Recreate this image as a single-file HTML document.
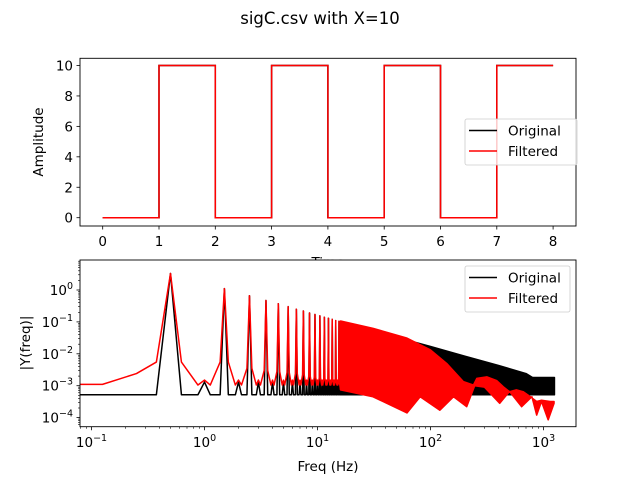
<!DOCTYPE html>
<html><head><meta charset="utf-8"><style>
body{margin:0;background:#fff}
svg text{font-family:"DejaVu Sans","Liberation Sans",sans-serif;fill:#000}
</style></head><body>
<svg width="640" height="480" viewBox="0 0 640 480" xmlns="http://www.w3.org/2000/svg">
<rect width="640" height="480" fill="#fff"/>
<text x="320" y="24" font-size="16.5" text-anchor="middle">sigC.csv with X=10</text>
<g id="top"></g>
<g id="bot"></g>
</svg>
<script>
// ---- time data ----
const edgeTimes=[0,1,2,3,4,5,6,7,8];
const levels=[0,10,0,10,0,10,0,10];
const timeTicks=[0,1,2,3,4,5,6,7,8];
const ampTicks=[0,2,4,6,8,10];
// ---- spectrum data ----
const peakFreqs=[0.5,1.5,2.5,3.5,4.5,5.5,6.5,7.5,8.5,9.5,10.5,11.5,12.5,13.5,14.5,15.5];
const peakAmps=[3.3,1.1,0.66,0.47,0.37,0.30,0.25,0.22,0.19,0.17,0.155,0.14,0.13,0.12,0.11,0.105];
const redShoulders=[5.5e-3,5.5e-3,3.5e-3,3e-3,2.8e-3,2.6e-3,2.4e-3,2.2e-3,2e-3,1.9e-3,1.8e-3,1.7e-3,1.6e-3,1.5e-3,1.4e-3,1.3e-3];
const origBase=5.2e-4, origEven=1.3e-3, redEven=1.5e-3, redTrough=1.05e-3;
const redLowF=[0.05,0.125,0.25],redLowV=[1.1e-3,1.1e-3,2.4e-3];
const origLowF=[0.05,0.125,0.25],origLowV=[5.2e-4,5.2e-4,5.2e-4];
const blackBandF=[16,30,62,100,200,400,700,800,1250];
const blackBandUp=[0.105,0.055,0.027,0.017,0.0085,0.0043,0.0024,0.0018,0.0018];
const blackBandLo=[5.2e-4,5.2e-4,5.2e-4,5.2e-4,5.2e-4,5.2e-4,5.2e-4,5.2e-4,5.2e-4];
const redUpF=[16,31,62,100,139,195,240,257,315,385,440,500,575,660,760,870,960,1145,1240];
const redUpV=[0.107,0.063,0.031,0.0132,0.005,0.00135,0.00105,0.0017,0.0019,0.00145,0.00093,0.00065,0.00074,0.00065,0.00046,0.00032,0.00035,0.00032,0.00032];
const redLoF=[16,31,62,81,121,160,209,246,300,410,500,640,790,870,960,1100,1240];
const redLoV=[7.4e-4,4.5e-4,1.4e-4,4.5e-4,1.7e-4,4.5e-4,2.2e-4,1.0e-3,9e-4,2.8e-4,6.6e-4,2.2e-4,4.5e-4,1.2e-4,3.2e-4,8.5e-5,2.8e-4];
const freqDecades=[-1,0,1,2,3];
const magDecades=[-4,-3,-2,-1,0];

const NS="http://www.w3.org/2000/svg";
const FS=13.5;
function mk(p,tag,a,txt){const e=document.createElementNS(NS,tag);for(const k in a)e.setAttribute(k,a[k]);if(txt!==undefined)e.textContent=txt;p.appendChild(e);return e;}
// ---- top axes ----
const T=document.getElementById('top');
const tx=t=>102.7+56.3*t, ty=v=>217.7-15.22*v;
function sqPath(){let d=`M${tx(edgeTimes[0])},${ty(levels[0])}`;for(let i=0;i<levels.length;i++){d+=` L${tx(edgeTimes[i])},${ty(levels[i])} L${tx(edgeTimes[i+1])},${ty(levels[i])}`;}return d;}
let e=mk(T,'path',{d:sqPath(),fill:'none',stroke:'#000','stroke-width':1.5});

e=mk(T,'path',{d:sqPath(),fill:'none',stroke:'#f00','stroke-width':1.5});

mk(T,'rect',{x:80,y:58.3,width:496,height:167.7,fill:'none',stroke:'#000','stroke-width':0.9});
timeTicks.forEach(t=>{mk(T,'line',{x1:tx(t),x2:tx(t),y1:226,y2:229.5,stroke:'#000','stroke-width':0.8});const l=mk(T,'text',{x:tx(t),y:246,'font-size':FS,'text-anchor':'middle'},String(t));});
ampTicks.forEach(v=>{mk(T,'line',{x1:76.5,x2:80,y1:ty(v),y2:ty(v),stroke:'#000','stroke-width':0.8});const l=mk(T,'text',{x:73,y:ty(v)+5,'font-size':FS,'text-anchor':'end'},String(v));});
e=mk(T,'text',{x:43,y:142,'font-size':FS,'text-anchor':'middle',transform:'rotate(-90 43 142)'},'Amplitude');
e=mk(T,'text',{x:328,y:267,'font-size':FS,'text-anchor':'middle'},'Time');
function legend(g,x,y,w,name){const G=mk(g,'g',{});
mk(G,'rect',{x:x,y:y,width:w,height:46,rx:2,fill:'#fff','fill-opacity':0.8,stroke:'#ccc','stroke-width':0.8});
mk(G,'line',{x1:x+4,x2:x+32,y1:y+11.5,y2:y+11.5,stroke:'#000','stroke-width':1.5});
mk(G,'text',{x:x+43,y:y+16.5,'font-size':FS},'Original');
mk(G,'line',{x1:x+4,x2:x+32,y1:y+32,y2:y+32,stroke:'#f00','stroke-width':1.5});
mk(G,'text',{x:x+43,y:y+37,'font-size':FS},'Filtered');}
// ---- bottom axes ----
const B=document.getElementById('bot');
mk(B,'rect',{x:80,y:260,width:496,height:166.7,fill:'#fff'});
const clip=mk(B,'clipPath',{id:'cb'});mk(clip,'rect',{x:80,y:260,width:496,height:166.7});
const P=mk(B,'g',{'clip-path':'url(#cb)'});
const fx=f=>204.5+113*Math.log10(f), fy=v=>290-31.9*Math.log10(v);
// original line
let pts=origLowF.map((f,i)=>[f,origLowV[i]]);
peakFreqs.forEach((f,i)=>{pts.push([f-0.125,origBase],[f,peakAmps[i]],[f+0.125,origBase]);
 if(i<peakFreqs.length-1){pts.push([f+0.375,origBase],[f+0.5,origEven],[f+0.625,origBase]);}});
pts.push([blackBandF[0],origBase]);
e=mk(P,'polyline',{points:pts.map(p=>fx(p[0])+','+fy(p[1])).join(' '),fill:'none',stroke:'#000','stroke-width':1.5,'stroke-linejoin':'round'});

let bp=blackBandF.map((f,i)=>fx(f)+','+fy(blackBandUp[i]));
for(let i=blackBandF.length-1;i>=0;i--)bp.push(fx(blackBandF[i])+','+fy(blackBandLo[i]));
e=mk(P,'polygon',{points:bp.join(' '),fill:'#000',stroke:'#000','stroke-width':1.5,'stroke-linejoin':'round'});

// filtered line
let rp=redLowF.map((f,i)=>[f,redLowV[i]]);
peakFreqs.forEach((f,i)=>{rp.push([f-0.125,redShoulders[i]],[f,peakAmps[i]],[f+0.125,redShoulders[i]]);
 if(i<peakFreqs.length-1){rp.push([f+0.375,redTrough],[f+0.5,redEven],[f+0.625,redTrough]);}});
rp.push([redLoF[0],redLoV[0]]);
e=mk(P,'polyline',{points:rp.map(p=>fx(p[0])+','+fy(p[1])).join(' '),fill:'none',stroke:'#f00','stroke-width':1.5,'stroke-linejoin':'round'});

let rb=redUpF.map((f,i)=>fx(f)+','+fy(redUpV[i]));
for(let i=redLoF.length-1;i>=0;i--)rb.push(fx(redLoF[i])+','+fy(redLoV[i]));
e=mk(P,'polygon',{points:rb.join(' '),fill:'#f00',stroke:'#f00','stroke-width':1.5,'stroke-linejoin':'round'});

mk(B,'rect',{x:80,y:260,width:496,height:166.7,fill:'none',stroke:'#000','stroke-width':0.9});
// x ticks
freqDecades.forEach(d=>{const x=fx(Math.pow(10,d));mk(B,'line',{x1:x,x2:x,y1:426.7,y2:430.2,stroke:'#000','stroke-width':0.8});
 const l=mk(B,'text',{x:x,y:447,'font-size':FS,'text-anchor':'middle'});
 mk(l,'tspan',{},'10');mk(l,'tspan',{dy:-6,'font-size':9.5},String(d).replace('-','\u2212'));
 for(let m=2;m<10;m++){const xm=fx(m*Math.pow(10,d));if(xm>80&&xm<576)mk(B,'line',{x1:xm,x2:xm,y1:426.7,y2:428.7,stroke:'#000','stroke-width':0.6});}});
for(let m=8;m<10;m++){const xm=fx(m*0.01);if(xm>80)mk(B,'line',{x1:xm,x2:xm,y1:426.7,y2:428.7,stroke:'#000','stroke-width':0.6});}
// y ticks
magDecades.forEach(d=>{const y=fy(Math.pow(10,d));mk(B,'line',{x1:76.5,x2:80,y1:y,y2:y,stroke:'#000','stroke-width':0.8});
 const l=mk(B,'text',{x:73,y:y+5,'font-size':FS,'text-anchor':'end'});
 mk(l,'tspan',{},'10');mk(l,'tspan',{dy:-6,'font-size':9.5},String(d).replace('-','\u2212'));});
for(let d=-5;d<=0;d++)for(let m=2;m<10;m++){const ym=fy(m*Math.pow(10,d));if(ym>260&&ym<426.7)mk(B,'line',{x1:78,x2:80,y1:ym,y2:ym,stroke:'#000','stroke-width':0.6});}
e=mk(B,'text',{x:30,y:343,'font-size':FS,'text-anchor':'middle',transform:'rotate(-90 30 343)'},'|Y(freq)|');
e=mk(B,'text',{x:328,y:471,'font-size':FS,'text-anchor':'middle'},'Freq (Hz)');
legend(T,465,119,112,'legend-top');
legend(B,465,266,105,'legend-bottom');
</script>
</body></html>
